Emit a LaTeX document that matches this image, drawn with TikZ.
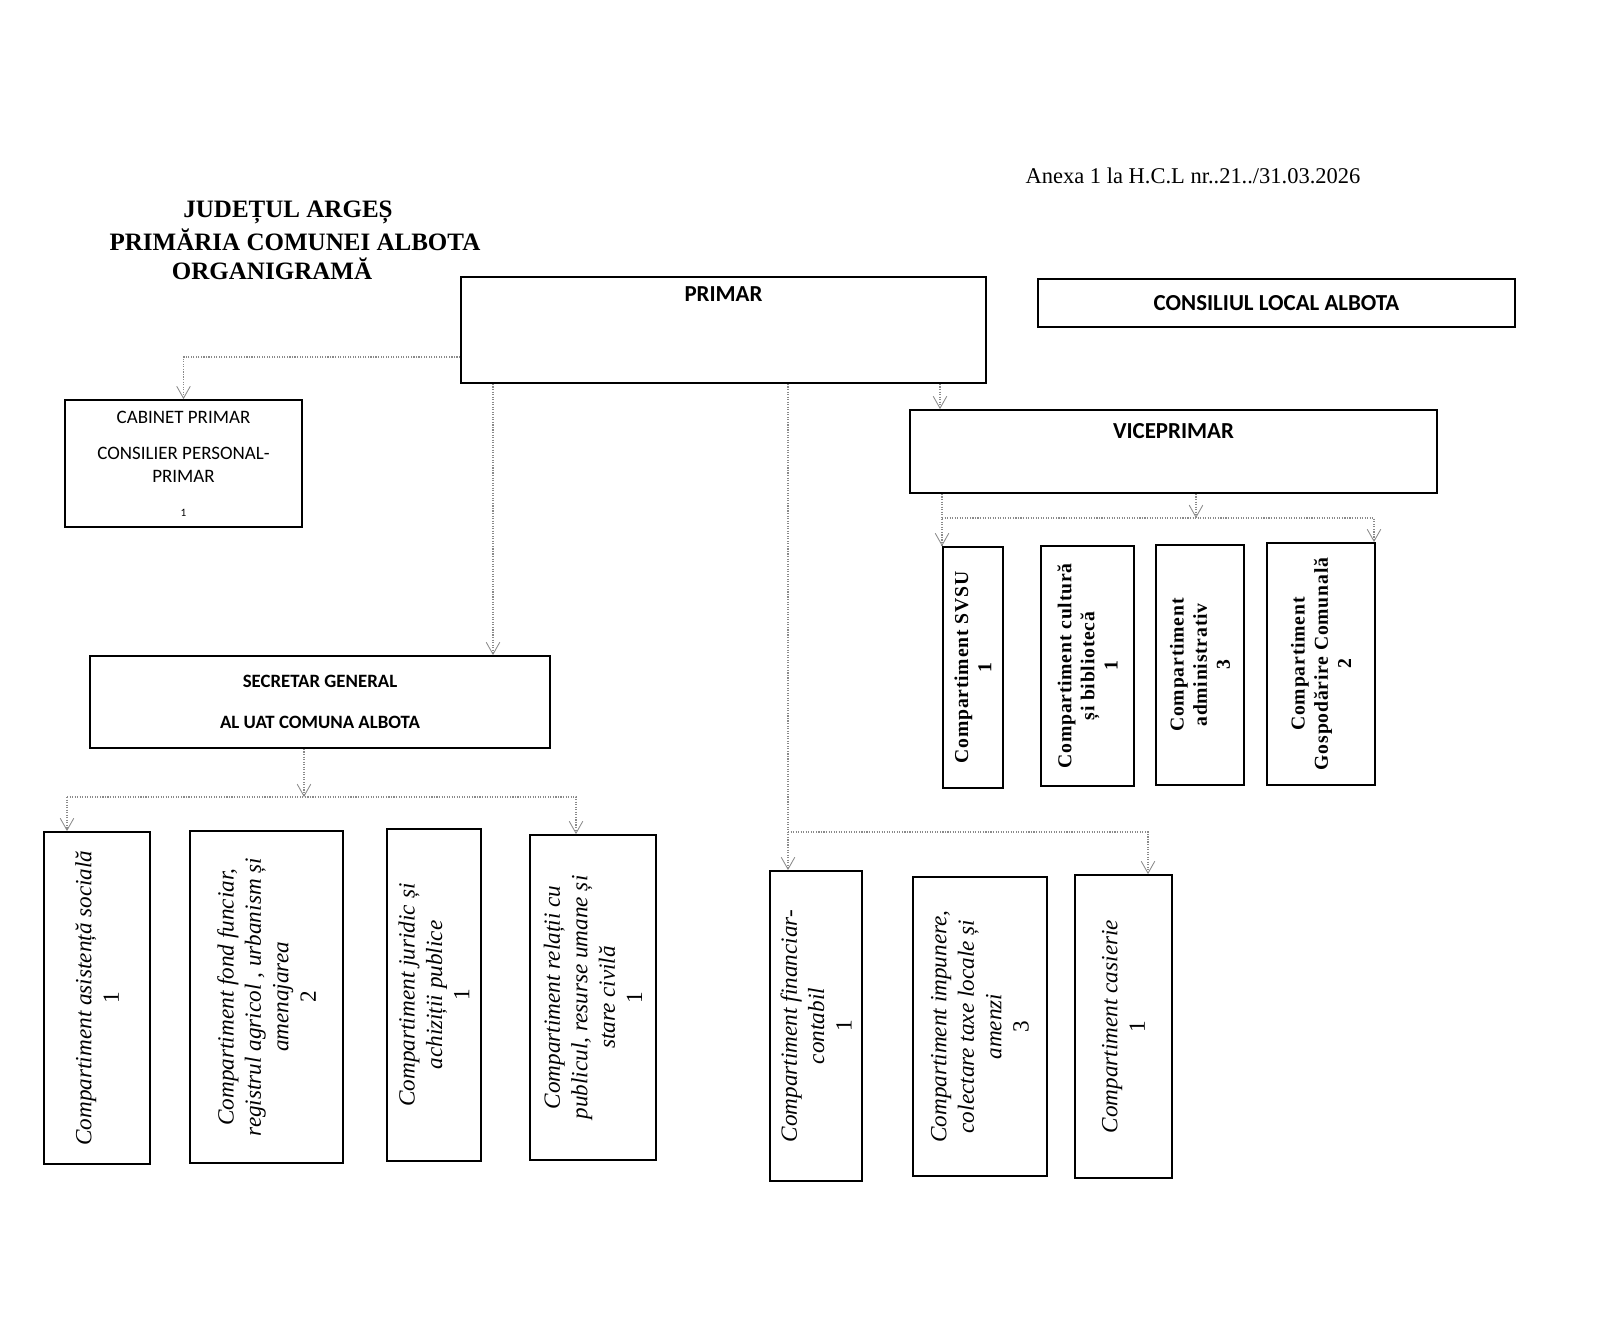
\documentclass[tikz,border=0pt]{standalone}
\usepackage{fontspec}
\setmainfont{Liberation Serif}
\newfontfamily\carlito{Carlito}
\usepackage{tikz}
\usetikzlibrary{positioning,arrows.meta}
\definecolor{linegray}{HTML}{8A8A8A}
\def\pxu{0.25mm}
\tikzset{
  box/.style={draw=black, line width=1.3pt, inner sep=0pt},
  hd/.style={font=\carlito\bfseries\fontsize{16.3}{19}\selectfont},
  hdsmall/.style={font=\carlito\bfseries\fontsize{13.4}{16}\selectfont},
  cab/.style={font=\carlito\fontsize{13.5}{16}\selectfont},
  ttl/.style={font=\bfseries\fontsize{17.8}{20}\selectfont},
  anexa/.style={font=\fontsize{16}{19}\selectfont},
  vbox/.style={box, rotate=90, align=center},
  vbold/.style={font=\bfseries\fontsize{14}{16.5}\selectfont\addfontfeature{LetterSpace=4}},
  vital/.style={font=\itshape\fontsize{16.5}{19.5}\selectfont},
  conn/.style={draw=linegray, densely dotted, line width=0.8pt},
  arr/.style={conn, -{Straight Barb[length=3mm,width=3.4mm,line width=0.6pt]}},
}

\begin{document}
\begin{tikzpicture}[x=0.25mm, y=-0.25mm]
  \useasboundingbox[fill=white] (0,0) rectangle (1600,1329);

  % header
  \node[ttl] (title1) at (288,212) {JUDEȚUL ARGEȘ};
  \node[ttl] (title2) at (295,240) {PRIMĂRIA COMUNEI ALBOTA};
  \node[ttl] (title3) at (272,269) {ORGANIGRAMĂ};
  \node[anexa] (anexa) at (1193,176) {Anexa 1 la H.C.L nr..21../31.03.2026};

  % top level
  \node[box, minimum width=525*\pxu, minimum height=106*\pxu] (primar) at (723.5,330) {};
  \node[hd, below=1.4mm of primar.north] (primarT) {PRIMAR};
  \node[box, hd, minimum width=477*\pxu, minimum height=48*\pxu] (consiliu) at (1276.5,303) {CONSILIUL LOCAL ALBOTA};
  \node[box, cab, align=center, minimum width=237*\pxu, minimum height=127*\pxu] (cabinet) at (183.5,463.5)
    {CABINET PRIMAR\\[10pt]CONSILIER PERSONAL-\\PRIMAR\\[8pt]{\footnotesize 1}};
  \node[box, minimum width=527*\pxu, minimum height=83*\pxu] (vice) at (1173.5,451.5) {};
  \node[hd, below=2.3mm of vice.north] (viceT) {VICEPRIMAR};
  \node[box, hdsmall, align=center, minimum width=460*\pxu, minimum height=92*\pxu] (secretar) at (320,702)
    {SECRETAR GENERAL\\[13pt]AL UAT COMUNA ALBOTA};

  % compartimente viceprimar
  \node[vbox, vbold, minimum width=241*\pxu, minimum height=60*\pxu] (svsu) at (973,667.5)
    {Compartiment SVSU\\1};
  \node[vbox, vbold, minimum width=240*\pxu, minimum height=93*\pxu] (cultura) at (1087.5,666)
    {Compartiment cultură\\și bibliotecă\\1};
  \node[vbox, vbold, minimum width=240*\pxu, minimum height=88*\pxu] (admin) at (1200,665)
    {Compartiment\\administrativ\\3};
  \node[vbox, vbold, minimum width=242*\pxu, minimum height=108*\pxu] (gosp) at (1321,664)
    {Compartiment\\Gospodărire Comunală\\2};

  % compartimente secretar
  \node[vbox, vital, minimum width=332*\pxu, minimum height=106*\pxu] (asist) at (97,998)
    {Compartiment asistență socială\\\textup{1}};
  \node[vbox, vital, minimum width=332*\pxu, minimum height=153*\pxu] (fond) at (266.5,997)
    {Compartiment fond funciar,\\registrul agricol , urbanism și\\amenajarea\\\textup{2}};
  \node[vbox, vital, minimum width=332*\pxu, minimum height=94*\pxu] (juridic) at (434,995)
    {Compartiment juridic și\\achiziții publice\\\textup{1}};
  \node[vbox, vital, minimum width=325*\pxu, minimum height=126*\pxu] (relatii) at (593,997.5)
    {Compartiment relații cu\\publicul, resurse umane și\\stare civilă\\\textup{1}};

  % compartimente financiare
  \node[vbox, vital, minimum width=310*\pxu, minimum height=92*\pxu] (financiar) at (816,1026)
    {Compartiment financiar-\\contabil\\\textup{1}};
  \node[vbox, vital, minimum width=299*\pxu, minimum height=134*\pxu] (impunere) at (980,1026.5)
    {Compartiment impunere,\\colectare taxe locale și\\amenzi\\\textup{3}};
  \node[vbox, vital, minimum width=303*\pxu, minimum height=97*\pxu] (casierie) at (1123.5,1026.5)
    {Compartiment casierie\\\textup{1}};

  % bus points (rotated boxes: east = top)
  \coordinate (busV) at (942,518);
  \coordinate (busS) at (67,797);
  \coordinate (busF) at (788,832);

  % connectors
  \draw[arr] (primar.west |- 0,357) -| (cabinet.north);
  \draw[arr] (primar.south -| 493,0) -- (secretar.north -| 493,0);
  \draw[arr] (primar.south -| 940,0) -- (vice.north -| 940,0);
  \draw[arr] (primar.south -| busF) -- (financiar.east -| busF);
  \draw[arr] (busF) -| (casierie.east -| 1148,0);

  \draw[arr] (vice.south -| busV) -- (svsu.east -| busV);
  \draw[arr] (vice.south -| 1196,0) -- (busV -| 1196,0);
  \draw[arr] (busV) -| (gosp.east -| 1374,0);

  \draw[arr] (secretar.south -| 304,0) -- (busS -| 304,0);
  \draw[arr] (busS) -- (asist.east -| busS);
  \draw[arr] (busS) -| (relatii.east -| 576,0);
\end{tikzpicture}
\end{document}
